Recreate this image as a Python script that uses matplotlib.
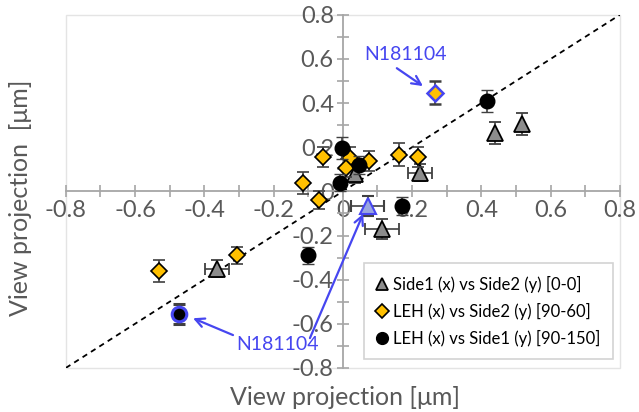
#!/usr/bin/env python3
import matplotlib
matplotlib.use("Agg")
import matplotlib.pyplot as plt
from matplotlib.patches import Rectangle
from matplotlib.lines import Line2D
import numpy as np

plt.rcParams['font.family'] = ['Lato', 'DejaVu Sans']

# Side1 (x) vs Side2 (y) [0-0]
tri_x = [0.517, 0.44, 0.223, 0.035, 0.113, -0.364]
tri_y = [0.305, 0.265, 0.085, 0.077, -0.17, -0.35]
tri_xerr = [0.0, 0.0, 0.035, 0.0, 0.05, 0.035]
tri_yerr = [0.05, 0.05, 0.04, 0.04, 0.045, 0.04]
# highlighted triangle (N181104)
tri_hl = (0.072, -0.068, 0.048, 0.045)

# LEH (x) vs Side2 (y) [90-60]
dia_x = [0.162, 0.217, -0.058, 0.02, 0.01, 0.075, -0.115, -0.07, -0.306, -0.53]
dia_y = [0.167, 0.154, 0.154, 0.15, 0.105, 0.136, 0.04, -0.04, -0.29, -0.36]
dia_yerr = [0.05, 0.045, 0.045, 0.05, 0.04, 0.045, 0.05, 0.04, 0.04, 0.05]
dia_hl = (0.266, 0.448, 0.05)

# LEH (x) vs Side1 (y) [90-150]
cir_x = [0.416, -0.003, 0.046, -0.009, 0.17, -0.10]
cir_y = [0.41, 0.195, 0.12, 0.04, -0.067, -0.29]
cir_yerr = [0.05, 0.05, 0.04, 0.04, 0.04, 0.04]
cir_hl = (-0.474, -0.556, 0.045)

legend_labels = ['Side1 (x) vs Side2 (y) [0-0]',
                 'LEH (x) vs Side2 (y) [90-60]',
                 'LEH (x) vs Side1 (y) [90-150]']

TXT = '#595959'
AX = '#a6a6a6'
ERR = '#404040'
GOLD = '#ffc000'
TRI = '#8c8c8c'
BLUE = '#4646f0'

fig = plt.figure(figsize=(6.39, 4.12), dpi=100)
ax = fig.add_axes([0.103, 0.107, 0.867, 0.857])

ax.plot([-0.8, 0.8], [-0.8, 0.8], ls=(0, (3, 2.5)), color='black', lw=1.3, zorder=1)

ebkw = dict(ls='none', ecolor=ERR, elinewidth=1.2, capsize=4.5, capthick=1.2)

ax.errorbar(tri_x, tri_y, xerr=tri_xerr, yerr=tri_yerr, fmt='^', ms=11.5,
            mfc=TRI, mec='black', mew=1.3, zorder=3, **ebkw)
ax.errorbar([tri_hl[0]], [tri_hl[1]], xerr=[tri_hl[2]], yerr=[tri_hl[3]], fmt='^', ms=11.5,
            mfc='#9aa6e0', mec=BLUE, mew=1.5, zorder=3, **ebkw)

ax.errorbar(dia_x, dia_y, yerr=dia_yerr, fmt='D', ms=8.5,
            mfc=GOLD, mec='black', mew=1.2, zorder=4, **ebkw)
ax.errorbar([dia_hl[0]], [dia_hl[1]], yerr=[dia_hl[2]], fmt='D', ms=8.5,
            mfc=GOLD, mec=BLUE, mew=1.8, zorder=4, **ebkw)

ax.errorbar(cir_x, cir_y, yerr=cir_yerr, fmt='o', ms=10.5,
            mfc='black', mec='black', mew=1, zorder=5, **ebkw)
ax.errorbar([cir_hl[0]], [cir_hl[1]], yerr=[cir_hl[2]], fmt='o', ms=10.5,
            mfc='black', mec=BLUE, mew=2.2, zorder=5, **ebkw)

# annotations
akw = dict(arrowstyle='->', color=BLUE, lw=1.6, mutation_scale=16)
ax.annotate('N181104', xy=(0.238, 0.47), xytext=(0.182, 0.62),
            ha='center', va='center', color=BLUE, fontsize=14,
            arrowprops=dict(akw, shrinkA=3, shrinkB=2, relpos=(0.3, 0.0)))
ax.annotate('N181104', xy=(-0.44, -0.57), xytext=(-0.19, -0.695),
            ha='center', va='center', color=BLUE, fontsize=14,
            arrowprops=dict(akw, shrinkA=0, shrinkB=2,
                            relpos=(0.0, 1.0)))
ax.annotate('', xy=(0.062, -0.09), xytext=(-0.095, -0.665),
            arrowprops=dict(akw, shrinkA=0, shrinkB=2))

ax.set_xlim(-0.8, 0.8)
ax.set_ylim(-0.8, 0.8)
ax.spines['left'].set_position(('data', 0))
ax.spines['bottom'].set_position(('data', 0))
ax.spines['top'].set_visible(False)
ax.spines['right'].set_visible(False)
for s in ('left', 'bottom'):
    ax.spines[s].set_color(AX)
    ax.spines[s].set_linewidth(1.3)

ticks = np.arange(-0.8, 0.81, 0.2)
ax.set_xticks(ticks)
ax.set_yticks(ticks)
ax.set_xticks(np.arange(-0.7, 0.8, 0.2), minor=True)
ax.set_yticks(np.arange(-0.7, 0.8, 0.2), minor=True)
tick_labels = [f'{v:.1f}'.replace('-0.0', '0').replace('0.0', '0') for v in ticks]
ax.set_xticklabels(tick_labels)
ax.set_yticklabels(tick_labels)
ax.tick_params(which='both', direction='inout', length=9, width=1.2, color=AX)
ax.tick_params(labelsize=17, labelcolor=TXT, pad=2)

# faint plot-area border
ax.add_patch(Rectangle((0, 0), 1, 1, transform=ax.transAxes, fill=False,
                       ec='#e4e4e4', lw=1, clip_on=False, zorder=0))

fig.text(0.54, 0.035, 'View projection [\u03bcm]', ha='center', va='center',
         fontsize=18, color=TXT)
fig.text(0.032, 0.52, 'View projection  [\u03bcm]', ha='center', va='center',
         rotation=90, fontsize=18, color=TXT)

handles = [
    Line2D([], [], ls='none', marker='^', ms=9, mfc=TRI, mec='black', mew=1.3),
    Line2D([], [], ls='none', marker='D', ms=7, mfc=GOLD, mec='black', mew=1.2),
    Line2D([], [], ls='none', marker='o', ms=8.5, mfc='black', mec='black'),
]
leg = ax.legend(handles, legend_labels, loc='lower right', bbox_to_anchor=(0.987, 0.025),
                fontsize=12, frameon=True, fancybox=False, shadow=False, handlelength=0.7,
                handletextpad=0.3, labelspacing=0.6, borderpad=0.75, borderaxespad=0)
leg.get_frame().set_edgecolor('#c8c8c8')
leg.get_frame().set_linewidth(1.2)

fig.savefig('out.png', dpi=100, facecolor='white')
